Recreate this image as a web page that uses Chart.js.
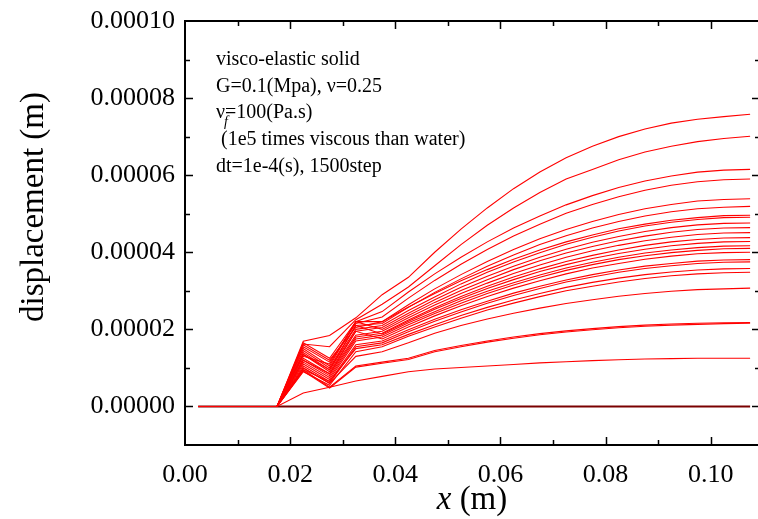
<!DOCTYPE html>
<html>
<head>
<meta charset="utf-8">
<script src="https://cdn.jsdelivr.net/npm/chart.js@4"></script>
<style>
  body { margin: 0; background: #fff; }
  canvas { display: block; }
</style>
</head>
<body>
<canvas id="chart" width="758" height="519"></canvas>
<script>
// x positions (m)
const xPos = [0.0025, 0.0075, 0.0125, 0.0175, 0.0225, 0.0275, 0.0325, 0.0375, 0.0425, 0.0475, 0.0525,
              0.0575, 0.0625, 0.0675, 0.0725, 0.0775, 0.0825, 0.0875, 0.0925, 0.0975, 0.1025, 0.1075];

// displacement, in units of 1e-5 m
const u01 = [0,0,0,0, 1.69,1.84,2.30, 2.90,3.35,4.00,4.60,5.15,5.65,6.08,6.45,6.75,7.00,7.20,7.35,7.45,7.52,7.58];
const u02 = [0,0,0,0, 1.62,1.55,2.25, 2.65,3.10,3.65,4.20,4.70,5.15,5.55,5.90,6.15,6.40,6.60,6.75,6.87,6.95,7.01];
const u03 = [0,0,0,0, 1.65,1.25,2.20, 2.46,2.97,3.44,3.87,4.27,4.63,4.94,5.23,5.47,5.68,5.85,5.98,6.08,6.13,6.15];
const u04 = [0,0,0,0, 1.55,1.15,2.15, 2.32,2.81,3.27,3.69,4.07,4.42,4.73,5.01,5.24,5.44,5.61,5.74,5.83,5.88,5.90];
const u05 = [0,0,0,0, 1.50,1.05,2.20, 2.20,2.64,3.05,3.42,3.76,4.07,4.35,4.59,4.80,4.98,5.13,5.24,5.33,5.37,5.39];
const u06 = [0,0,0,0, 1.45,1.00,2.10, 2.15,2.57,2.96,3.31,3.64,3.93,4.20,4.43,4.63,4.80,4.94,5.05,5.13,5.17,5.19];
const u07 = [0,0,0,0, 1.60,1.20,2.05, 2.20,2.58,2.93,3.26,3.55,3.82,4.06,4.27,4.45,4.61,4.73,4.83,4.90,4.95,4.96];
const u08 = [0,0,0,0, 1.40,0.95,2.00, 2.10,2.49,2.84,3.18,3.48,3.75,3.99,4.21,4.39,4.55,4.68,4.78,4.85,4.90,4.91];
const u09 = [0,0,0,0, 1.35,0.90,1.95, 2.05,2.42,2.77,3.09,3.38,3.64,3.87,4.08,4.26,4.41,4.54,4.64,4.71,4.75,4.76];
const u10 = [0,0,0,0, 1.30,1.10,2.20, 2.00,2.36,2.70,3.01,3.29,3.55,3.78,3.98,4.15,4.30,4.42,4.52,4.59,4.63,4.64];
const u11 = [0,0,0,0, 1.25,0.85,1.85, 1.95,2.30,2.63,2.93,3.20,3.45,3.67,3.87,4.04,4.18,4.30,4.39,4.46,4.50,4.51];
const u12 = [0,0,0,0, 1.20,0.80,1.80, 1.90,2.24,2.56,2.85,3.12,3.36,3.57,3.76,3.92,4.06,4.18,4.27,4.33,4.37,4.38];
const u13 = [0,0,0,0, 1.35,0.95,2.10, 1.88,2.21,2.52,2.80,3.06,3.29,3.50,3.68,3.84,3.97,4.08,4.17,4.23,4.27,4.28];
const u14 = [0,0,0,0, 1.15,0.75,1.75, 1.85,2.17,2.46,2.74,2.99,3.21,3.41,3.59,3.74,3.87,3.98,4.06,4.12,4.16,4.17];
const u15 = [0,0,0,0, 1.10,0.70,1.70, 1.80,2.12,2.41,2.68,2.93,3.15,3.35,3.53,3.68,3.81,3.91,3.99,4.05,4.09,4.10];
const u16 = [0,0,0,0, 1.20,0.85,1.95, 1.75,2.06,2.35,2.61,2.85,3.07,3.26,3.44,3.59,3.71,3.82,3.90,3.96,3.99,4.00];
const u17 = [0,0,0,0, 1.05,0.65,1.60, 1.70,1.99,2.26,2.51,2.73,2.94,3.12,3.28,3.42,3.54,3.64,3.71,3.77,3.80,3.81];
const u18 = [0,0,0,0, 1.00,0.60,1.55, 1.65,1.94,2.21,2.45,2.68,2.88,3.06,3.23,3.36,3.48,3.58,3.65,3.71,3.74,3.75];
const u19 = [0,0,0,0, 0.95,0.65,1.50, 1.60,1.87,2.12,2.36,2.57,2.76,2.93,3.09,3.22,3.33,3.42,3.49,3.54,3.57,3.58];
const u20 = [0,0,0,0, 0.90,0.55,1.42, 1.55,1.82,2.06,2.29,2.50,2.68,2.85,3.00,3.12,3.23,3.32,3.39,3.44,3.47,3.48];
const u21 = [0,0,0,0, 1.00,0.60,1.30, 1.42,1.65,1.90,2.10,2.27,2.42,2.55,2.67,2.77,2.86,2.93,2.99,3.03,3.05,3.07];
const u22 = [0,0,0,0, 0.95,0.50,1.05, 1.15,1.25,1.45,1.58,1.70,1.80,1.89,1.96,2.02,2.07,2.11,2.14,2.16,2.17,2.18];
const u23 = [0,0,0,0, 0.92,0.48,1.02, 1.12,1.22,1.42,1.55,1.67,1.77,1.86,1.93,1.99,2.04,2.08,2.11,2.13,2.15,2.16];
const u24 = [0,0,0,0, 0.35,0.50,0.66, 0.78,0.90,0.97,1.01,1.05,1.09,1.13,1.16,1.19,1.21,1.23,1.24,1.25,1.25,1.25];
const uZero = [0,0,0,0,0,0,0,0,0,0,0,0,0,0,0,0,0,0,0,0,0,0];

const redSeries = [u01,u02,u03,u04,u05,u06,u07,u08,u09,u10,u11,u12,u13,u14,u15,u16,u17,u18,u19,u20,u21,u22,u23,u24];

// tick positions (major + minor) and labels
const xTickVals = [0, 0.01, 0.02, 0.03, 0.04, 0.05, 0.06, 0.07, 0.08, 0.09, 0.10];
const xTickLabels = ['0.00', '', '0.02', '', '0.04', '', '0.06', '', '0.08', '', '0.10'];
const yTickVals = [-1, 0, 1, 2, 3, 4, 5, 6, 7, 8, 9, 10];
const yTickLabels = ['', '0.00000', '', '0.00002', '', '0.00004', '', '0.00006', '', '0.00008', '', '0.00010'];
const notes = ['visco-elastic solid', 'G=0.1(Mpa), \u03bd=0.25', '', ' (1e5 times viscous than water)', 'dt=1e-4(s), 1500step'];

const serif = '"Liberation Serif", "Times New Roman", serif';
Chart.defaults.font.family = serif;
Chart.defaults.color = '#000';

function toPoints(arr) {
  return arr.map((v, i) => ({ x: xPos[i], y: v }));
}

const datasets = redSeries.map(s => ({
  data: toPoints(s),
  borderColor: 'rgb(255,0,0)',
  borderWidth: 1.1,
  pointRadius: 0,
  tension: 0
}));
// all-zero curve, drawn underneath
datasets.push({
  data: toPoints(uZero),
  borderColor: '#7a0000',
  borderWidth: 2,
  pointRadius: 0
});

// frame, inward ticks, axis titles and the note
const decorations = {
  id: 'decorations',
  afterDatasetsDraw(chart) {
    const { ctx, chartArea: a, scales } = chart;
    const xs = scales.x, ys = scales.y;
    const right = a.right + 2; // right edge of the frame sits just past the canvas
    ctx.save();
    ctx.strokeStyle = '#000';
    ctx.lineWidth = 2;
    ctx.strokeRect(a.left, a.top, right - a.left, a.bottom - a.top);
    ctx.lineWidth = 1.5;
    ctx.beginPath();
    xTickVals.forEach((v, i) => {
      if (v <= xs.min || v >= xs.max) return;
      const px = Math.round(xs.getPixelForValue(v)) + 0.5;
      const len = xTickLabels[i] ? 8 : 5;
      ctx.moveTo(px, a.bottom); ctx.lineTo(px, a.bottom - len);
      ctx.moveTo(px, a.top); ctx.lineTo(px, a.top + len);
    });
    yTickVals.forEach((v, i) => {
      if (v <= ys.min || v >= ys.max) return;
      const py = Math.round(ys.getPixelForValue(v)) + 0.5;
      const len = yTickLabels[i] ? 8 : 5;
      ctx.moveTo(a.left, py); ctx.lineTo(a.left + len, py);
      ctx.moveTo(right, py); ctx.lineTo(right - len, py);
    });
    ctx.stroke();

    ctx.fillStyle = '#000';
    // y title
    ctx.save();
    ctx.translate(34, 207);
    ctx.rotate(-Math.PI / 2);
    ctx.font = '33px ' + serif;
    ctx.textAlign = 'center';
    ctx.textBaseline = 'middle';
    ctx.fillText('displacement (m)', 0, 0);
    ctx.restore();

    // x title, italic x
    ctx.textBaseline = 'middle';
    ctx.textAlign = 'left';
    ctx.font = 'italic 33px ' + serif;
    const wx = ctx.measureText('x').width;
    ctx.font = '33px ' + serif;
    const wr = ctx.measureText(' (m)').width;
    const sx = 472 - (wx + wr) / 2;
    ctx.font = 'italic 33px ' + serif;
    ctx.fillText('x', sx, 500);
    ctx.font = '33px ' + serif;
    ctx.fillText(' (m)', sx + wx, 500);

    // note
    ctx.textBaseline = 'alphabetic';
    ctx.font = '20px ' + serif;
    const nx = 216;
    notes.forEach((line, i) => {
      if (line) ctx.fillText(line, nx, 65 + i * 26.7);
    });
    const by = 65 + 2 * 26.7;
    ctx.fillText('\u03bd', nx, by);
    const wn = ctx.measureText('\u03bd').width;
    ctx.fillText('=100(Pa.s)', nx + wn, by);
    ctx.font = 'italic 14px ' + serif;
    ctx.fillText('f', nx + wn - 1, by + 8);
    ctx.restore();
  }
};

new Chart(document.getElementById('chart'), {
  type: 'line',
  data: { datasets },
  options: {
    responsive: false,
    animation: false,
    layout: { padding: { top: 21, right: 0, left: 0, bottom: 0 } },
    plugins: { legend: { display: false }, tooltip: { enabled: false } },
    scales: {
      x: {
        type: 'linear',
        min: 0,
        max: 0.109,
        grid: { display: false },
        border: { display: false },
        afterBuildTicks: s => { s.ticks = xTickVals.map(v => ({ value: v })); },
        afterFit: s => { s.height = 74; },
        ticks: {
          autoSkip: false,
          maxRotation: 0,
          padding: 7,
          font: { size: 26 },
          callback: (v, i) => xTickLabels[i]
        }
      },
      y: {
        type: 'linear',
        min: -1,
        max: 10,
        grid: { display: false },
        border: { display: false },
        afterBuildTicks: s => { s.ticks = yTickVals.map(v => ({ value: v })); },
        afterFit: s => { s.width = 185; },
        ticks: {
          autoSkip: false,
          padding: 2,
          font: { size: 26 },
          callback: (v, i) => yTickLabels[i]
        }
      }
    }
  },
  plugins: [decorations]
});
</script>
</body>
</html>
